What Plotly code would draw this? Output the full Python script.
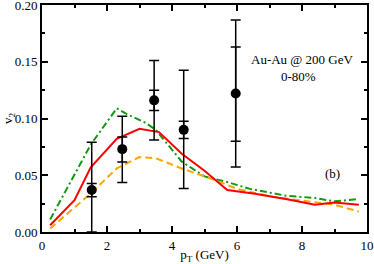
import plotly.graph_objects as go

# Data points (v2 vs pT)
pt_data = [1.53, 2.47, 3.45, 4.36, 5.96]
v2_data = [0.037, 0.073, 0.116, 0.090, 0.122]
stat_up = [0.0427, 0.0838, 0.125, 0.0976, 0.163]
stat_lo = [0.031, 0.0617, 0.107, 0.0823, 0.080]
sys_up = [0.079, 0.102, 0.151, 0.1426, 0.1867]
sys_lo = [0.0, 0.0436, 0.081, 0.0383, 0.0573]

# Model curves
red_x = [0.25, 1.0, 1.5, 2.3, 3.0, 3.6, 4.3, 5.0, 5.7, 6.5, 7.5, 8.4, 9.0, 9.75]
red_y = [0.006, 0.028, 0.057, 0.082, 0.091, 0.088, 0.069, 0.054, 0.037, 0.034, 0.029, 0.024, 0.026, 0.024]

green_x = [0.25, 1.5, 2.3, 2.6, 3.2, 3.5, 4.3, 5.0, 5.7, 6.4, 7.5, 8.4, 9.0, 9.7]
green_y = [0.011, 0.077, 0.109, 0.104, 0.096, 0.090, 0.062, 0.049, 0.044, 0.038, 0.032, 0.030, 0.027, 0.029]

orange_x = [0.25, 1.5, 2.3, 3.0, 3.5, 4.3, 5.3, 6.0, 7.1, 8.4, 9.0, 9.75]
orange_y = [0.003, 0.034, 0.056, 0.066, 0.065, 0.056, 0.046, 0.038, 0.031, 0.026, 0.024, 0.018]

x_ticks = [0, 2, 4, 6, 8, 10]
y_ticks = [0.00, 0.05, 0.10, 0.15, 0.20]
y_ticklabels = ["0.00", "0.05", "0.10", "0.15", "0.20"]

FONT = "Liberation Serif"

fig = go.Figure()

fig.add_trace(go.Scatter(x=green_x, y=green_y, mode="lines",
                         line=dict(color="#119911", width=2, dash="7px,3px,2px,3px")))
fig.add_trace(go.Scatter(x=orange_x, y=orange_y, mode="lines",
                         line=dict(color="#ffa500", width=2, dash="7px,4px")))
fig.add_trace(go.Scatter(x=red_x, y=red_y, mode="lines",
                         line=dict(color="#ff0000", width=2)))

fig.add_trace(go.Scatter(
    x=pt_data, y=v2_data, mode="markers",
    marker=dict(size=0.1, color="black", opacity=0),
    error_y=dict(type="data", symmetric=False,
                 array=[u - v for u, v in zip(sys_up, v2_data)],
                 arrayminus=[v - l for v, l in zip(v2_data, sys_lo)],
                 color="black", thickness=1.5, width=5)))
fig.add_trace(go.Scatter(
    x=pt_data, y=v2_data, mode="markers",
    marker=dict(size=10, color="black"),
    error_y=dict(type="data", symmetric=False,
                 array=[u - v for u, v in zip(stat_up, v2_data)],
                 arrayminus=[v - l for v, l in zip(v2_data, stat_lo)],
                 color="black", thickness=1.5, width=5)))

axis_common = dict(showline=True, linecolor="black", linewidth=2, mirror="ticks",
                   ticks="inside", tickcolor="black", tickwidth=1.5, ticklen=6,
                   showgrid=False, zeroline=False, automargin=False,
                   ticklabeloverflow="allow",
                   tickfont=dict(family=FONT, size=13, color="black"))

fig.update_layout(
    template="none",
    width=374, height=264,
    margin=dict(l=42, r=7, t=5, b=32, autoexpand=False),
    paper_bgcolor="white", plot_bgcolor="white",
    showlegend=False,
    font=dict(family=FONT, color="black"),
    xaxis=dict(range=[0, 10], tickvals=x_ticks,
               minor=dict(ticks="inside", dtick=1, ticklen=3, tickcolor="black", tickwidth=1.5),
               title=dict(text="p<sub>T</sub> (GeV)", font=dict(family=FONT, size=13, color="black"), standoff=2),
               **axis_common),
    yaxis=dict(range=[0, 0.20], tickvals=y_ticks, ticktext=y_ticklabels,
               minor=dict(ticks="inside", dtick=0.025, ticklen=3, tickcolor="black", tickwidth=1.5),
               title=dict(text="v<sub>2</sub>", font=dict(family=FONT, size=13, color="black"), standoff=2),
               **axis_common),
    annotations=[
        dict(x=0.80, y=0.1448, xref="x domain", yref="y", text="Au-Au @ 200 GeV",
             showarrow=False, xanchor="center", yanchor="bottom", borderpad=0,
             font=dict(family=FONT, size=13, color="black")),
        dict(x=0.79, y=0.1448, xref="x domain", yref="y", text="0-80%",
             showarrow=False, xanchor="center", yanchor="top", borderpad=0,
             font=dict(family=FONT, size=13, color="black")),
        dict(x=8.95, y=0.0518, xref="x", yref="y", text="(b)",
             showarrow=False, xanchor="center", yanchor="middle",
             font=dict(family=FONT, size=13, color="black")),
    ],
)

fig.write_html("out.html", config={"displayModeBar": False},
               post_script="document.body.style.margin='0px';")
